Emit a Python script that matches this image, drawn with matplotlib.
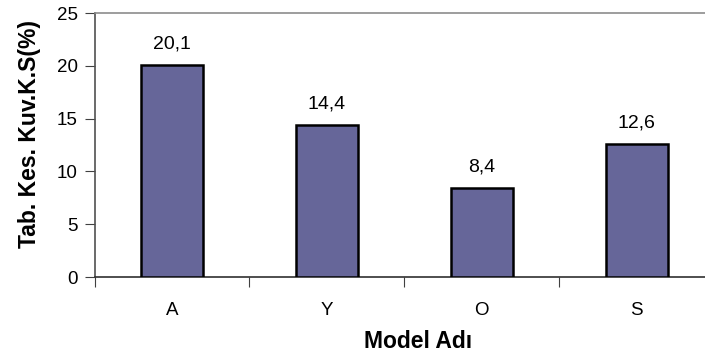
import numpy as np
import matplotlib.pyplot as plt

plt.rcParams['font.family'] = ['Liberation Sans', 'DejaVu Sans']

modeller = ['A', 'Y', 'O', 'S']
degerler = [20.1, 14.4, 8.4, 12.6]
y_ticks = [0, 5, 10, 15, 20, 25]

fig = plt.figure(figsize=(7.05, 3.6), dpi=100)
ax = fig.add_axes([94.5/705, 1 - 277/360, 1 - 94.5/705, (277 - 13)/360])

x = np.arange(len(modeller))
bars = ax.bar(x, degerler, width=0.40, color='#666699', edgecolor='black', linewidth=1.8, zorder=3)

# etiketler: ondalık virgül ile
for b, v in zip(bars, degerler):
    ax.annotate(f"{v:.1f}".replace('.', ','), (b.get_x() + b.get_width()/2, v),
                xytext=(0, 12), textcoords='offset points', ha='center', va='baseline', fontsize=14)

ax.set_ylim(0, 25)
ax.set_xlim(-0.5, 3.44)
ax.set_yticks(y_ticks)
ax.set_yticklabels([str(t) for t in y_ticks], fontsize=13.5)

# kategori sınırlarında çentikler, etiketler ortada
ax.set_xticks(np.arange(-0.5, 3.0, 1.0))
ax.set_xticklabels([])
ax.set_xticks(x, minor=True)
ax.set_xticklabels(modeller, minor=True, fontsize=13.5)
ax.tick_params(axis='x', which='minor', length=0, pad=18)
ax.tick_params(axis='x', which='major', length=7, color='#404040', direction='out')
ax.tick_params(axis='y', length=7, color='#404040', direction='out', pad=5)

ax.spines['right'].set_visible(False)
ax.spines['top'].set_color('#8c8c8c')
ax.spines['left'].set_color('#505050')
ax.spines['bottom'].set_color('#303030')
for s in ax.spines.values():
    s.set_linewidth(1.2)

fig.text(30/705, 1 - 134/360, 'Tab. Kes. Kuv.K.S(%)', rotation=90, ha='center', va='center',
         fontsize=16.5, fontweight='bold')
fig.text(418/705, 1 - 342/360, 'Model Adı', ha='center', va='center', fontsize=16.5, fontweight='bold')

fig.savefig('out.png', dpi=100)
